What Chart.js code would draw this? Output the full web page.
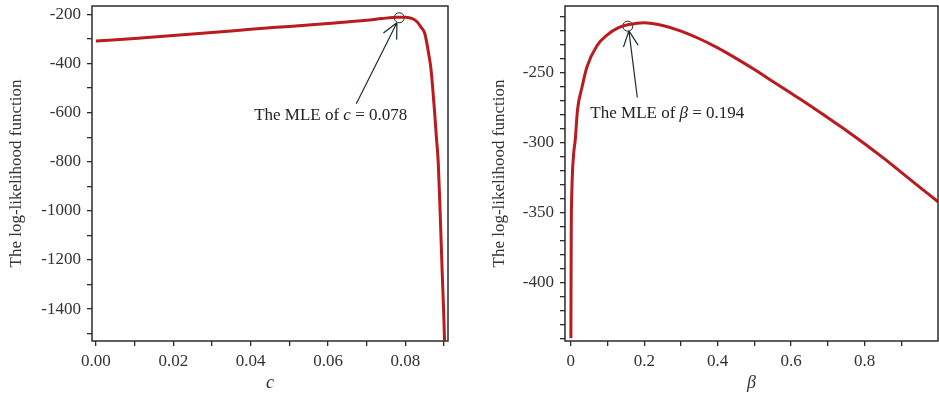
<!DOCTYPE html>
<html>
<head>
<meta charset="utf-8">
<script src="https://cdn.jsdelivr.net/npm/chart.js@4.4.0/dist/chart.umd.min.js"></script>
<style>
  body { margin: 0; background: #fff; overflow: hidden; }
  .box { position: absolute; top: 0; height: 396px; overflow: hidden; }
  #leftBox { left: 0; width: 470px; }
  #rightBox { left: 470px; width: 469px; }
</style>
</head>
<body>
<div class="box" id="leftBox"><canvas id="left" width="470" height="396"></canvas></div>
<div class="box" id="rightBox"><canvas id="right" width="476" height="396"></canvas></div>
<script>
// log-likelihood against c
const cValues = [0, 0.01, 0.02, 0.03, 0.04, 0.05, 0.06, 0.07, 0.074, 0.078, 0.080, 0.081, 0.082, 0.083, 0.084, 0.085, 0.086, 0.0865, 0.087, 0.0875, 0.088, 0.0885, 0.089, 0.0895, 0.0899, 0.0901];
const cLogLik = [-309, -298, -286, -274, -261, -249, -237, -224, -217, -212, -212, -214, -219, -230, -252, -278, -360, -410, -490, -590, -700, -810, -1020, -1250, -1420, -1528];
const cMle = [0.0784, -214];

// log-likelihood against beta
const betaValues = [0.0, 0.001, 0.003, 0.007, 0.012, 0.018, 0.03, 0.044, 0.071, 0.1, 0.13, 0.155, 0.2, 0.25, 0.3, 0.35, 0.4, 0.45, 0.5, 0.55, 0.6, 0.65, 0.7, 0.75, 0.8, 0.85, 0.9, 0.95, 1.0];
const betaLogLik = [-440, -365, -332, -310, -298, -277, -261, -246, -231, -223, -218, -216, -214.5, -216.5, -220.5, -226, -232.5, -240, -248, -256.5, -265, -273.5, -282.5, -291.5, -301, -311, -321.5, -332, -342.5];
const betaMle = [0.155, -217];

const yTitle = 'The log-likelihood function';

const serif = '"Liberation Serif", "DejaVu Serif", serif';
const ink = '#2b2b2b';

const framePlugin = {
  id: 'frame',
  afterDatasetsDraw(chart, args, opts) {
    const { ctx, chartArea: a, scales: { x, y } } = chart;
    ctx.save();
    ctx.strokeStyle = ink;
    ctx.lineWidth = 1.5;
    ctx.strokeRect(a.left, a.top, a.right - a.left, a.bottom - a.top);

    // arrow from label to the MLE point
    const tip = [x.getPixelForValue(opts.tip[0]), y.getPixelForValue(opts.tip[1])];
    const tail = [x.getPixelForValue(opts.tail[0]), y.getPixelForValue(opts.tail[1])];
    ctx.strokeStyle = '#1e2a2e';
    ctx.lineWidth = 1.2;
    ctx.beginPath();
    ctx.moveTo(tail[0], tail[1]);
    ctx.lineTo(tip[0], tip[1]);
    const ang = Math.atan2(tail[1] - tip[1], tail[0] - tip[0]);
    for (const d of [-0.45, 0.45]) {
      ctx.moveTo(tip[0], tip[1]);
      ctx.lineTo(tip[0] + 17 * Math.cos(ang + d), tip[1] + 17 * Math.sin(ang + d));
    }
    ctx.stroke();

    // label text, symbol in italic
    let tx = x.getPixelForValue(opts.text[0]);
    const ty = y.getPixelForValue(opts.text[1]);
    ctx.fillStyle = '#222';
    ctx.textBaseline = 'middle';
    for (const [s, style] of opts.parts) {
      ctx.font = style + ' 17px ' + serif;
      ctx.fillText(s, tx, ty);
      tx += ctx.measureText(s).width;
    }
    ctx.restore();
  }
};

function stepTicks(min, max, step) {
  return function (scale) {
    const t = [];
    for (let v = min; v <= max + step / 2; v += step) t.push({ value: +v.toFixed(6) });
    scale.ticks = t;
  };
}

function noPad(s) {
  s.paddingTop = 0;
  s.paddingBottom = 0;
  s.paddingLeft = 0;
  s.paddingRight = 0;
}

function makeChart(id, xs, ys, mle, cfg) {
  const points = xs.map((v, i) => ({ x: v, y: ys[i] }));
  return new Chart(document.getElementById(id), {
    type: 'line',
    data: {
      datasets: [
        {
          data: points,
          borderColor: '#bb1a1e',
          borderWidth: 3,
          pointRadius: 0,
          cubicInterpolationMode: 'monotone'
        },
        {
          type: 'scatter',
          data: [{ x: mle[0], y: mle[1] }],
          pointRadius: 5,
          pointBorderColor: '#222',
          pointBorderWidth: 1,
          pointBackgroundColor: 'rgba(0,0,0,0)'
        }
      ]
    },
    options: {
      responsive: false,
      animation: false,
      devicePixelRatio: 1,
      layout: { padding: cfg.padding },
      plugins: {
        legend: { display: false },
        tooltip: { enabled: false },
        frame: cfg.note
      },
      scales: {
        x: {
          type: 'linear',
          min: cfg.xMin,
          max: cfg.xMax,
          border: { display: false },
          grid: { drawOnChartArea: false, tickLength: 5, color: ink, lineWidth: 1.3 },
          afterBuildTicks: stepTicks(cfg.xTicks[0], cfg.xTicks[1], cfg.xTicks[2]),
          afterFit: s => { s.height = 55; noPad(s); },
          ticks: {
            autoSkip: false,
            maxRotation: 0,
            padding: 5,
            color: '#333',
            font: { family: serif, size: 17 },
            callback: cfg.xLabel
          },
          title: {
            display: true,
            text: cfg.xTitle,
            color: '#333',
            padding: { top: 0, bottom: 2 },
            font: { family: serif, size: 18, style: 'italic' }
          }
        },
        y: {
          type: 'linear',
          min: cfg.yMin,
          max: cfg.yMax,
          border: { display: false },
          grid: { drawOnChartArea: false, tickLength: 5, color: ink, lineWidth: 1.3 },
          afterBuildTicks: stepTicks(cfg.yTicks[0], cfg.yTicks[1], cfg.yTicks[2]),
          afterFit: s => { s.width = cfg.yWidth; noPad(s); },
          ticks: {
            autoSkip: false,
            padding: 6,
            color: '#333',
            font: { family: serif, size: 17 },
            callback: cfg.yLabel
          },
          title: {
            display: true,
            text: yTitle,
            color: '#333',
            padding: { top: cfg.yTitlePad, bottom: 0 },
            font: { family: serif, size: 17 }
          }
        }
      }
    },
    plugins: [framePlugin]
  });
}

makeChart('left', cValues, cLogLik, cMle, {
  padding: { top: 5, right: 22, left: 0, bottom: 0 },
  xMin: -0.001, xMax: 0.091, xTicks: [0, 0.09, 0.01],
  yMin: -1530, yMax: -166, yTicks: [-1500, -200, 100],
  yWidth: 92, yTitlePad: 6,
  xTitle: 'c',
  xLabel: v => (Math.round(v * 100) % 2 === 0 ? v.toFixed(2) : ''),
  yLabel: v => (Math.round(v) % 200 === 0 ? String(v) : ''),
  note: {
    tip: [0.0778, -234], tail: [0.0673, -564], text: [0.0409, -612],
    parts: [['The MLE of ', 'normal'], ['c', 'italic'], [' = 0.078', 'normal']]
  }
});

makeChart('right', betaValues, betaLogLik, betaMle, {
  padding: { top: 5, right: 8, left: 0, bottom: 0 },
  xMin: -0.016, xMax: 1.0, xTicks: [0, 0.9, 0.1],
  yMin: -442, yMax: -202.6, yTicks: [-440, -210, 10],
  yWidth: 95, yTitlePad: 19,
  xTitle: 'β',
  xLabel: v => (Math.round(v * 10) % 2 === 0 ? (v === 0 ? '0' : v.toFixed(1)) : ''),
  yLabel: v => (Math.round(v) % 50 === 0 ? String(v) : ''),
  note: {
    tip: [0.158, -220.4], tail: [0.181, -268], text: [0.053, -279.4],
    parts: [['The MLE of ', 'normal'], ['β', 'italic'], [' = 0.194', 'normal']]
  }
});
</script>
</body>
</html>
